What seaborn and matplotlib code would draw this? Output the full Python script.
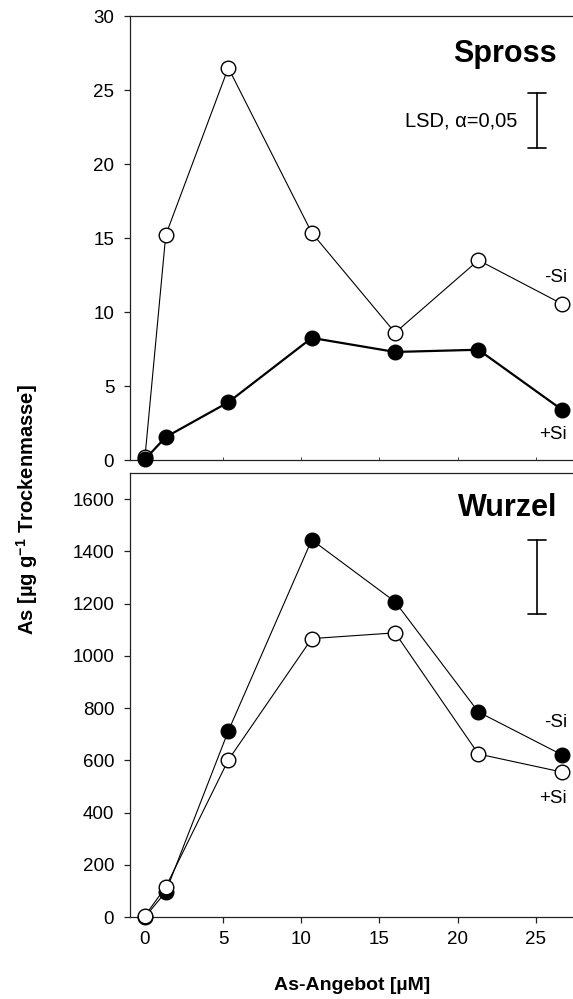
import matplotlib
matplotlib.use("Agg")
import matplotlib.pyplot as plt
import seaborn as sns
import pandas as pd

# As supply (µM)
conc = [0, 1.33, 5.33, 10.67, 16, 21.33, 26.67]

# Shoot (Spross) As content
spross_open = [0.2, 15.2, 26.5, 15.35, 8.6, 13.5, 10.55]
spross_filled = [0.05, 1.55, 3.9, 8.25, 7.3, 7.45, 3.4]

# Root (Wurzel) As content
wurzel_filled = [0, 96, 712, 1444, 1207, 785, 621]
wurzel_open = [5, 115, 601, 1066, 1088, 624, 555]

# LSD (alpha = 0.05) ranges: (lower, upper)
lsd_spross = (21.1, 24.8)
lsd_wurzel = (1161, 1444)

x_ticks = [0, 5, 10, 15, 20, 25]
spross_yticks = [0, 5, 10, 15, 20, 25, 30]
wurzel_yticks = [0, 200, 400, 600, 800, 1000, 1200, 1400, 1600]

sns.set_theme(style="ticks")
plt.rcParams["font.family"] = ["Liberation Sans", "DejaVu Sans"]
plt.rcParams["mathtext.fontset"] = "custom"
plt.rcParams["mathtext.rm"] = "Liberation Sans"
plt.rcParams["mathtext.bf"] = "Liberation Sans:bold"
plt.rcParams["axes.linewidth"] = 0.9
plt.rcParams["axes.edgecolor"] = "#222222"
plt.rcParams["text.color"] = "black"
plt.rcParams["axes.labelcolor"] = "black"
plt.rcParams["xtick.labelcolor"] = "black"
plt.rcParams["ytick.labelcolor"] = "black"

W, H = 573, 999
fig = plt.figure(figsize=(W / 100, H / 100), dpi=100)

left = 129.5 / W
width = 1 - left
ax1 = fig.add_axes([left, 1 - 460 / H, width, 444 / H])
ax2 = fig.add_axes([left, 1 - 917 / H, width, 444 / H])

x_lim = (-0.99, 27.38)
FS = 13.5

def style_line(ax, y, face, lw, z):
    df = pd.DataFrame({"x": conc, "y": y})
    sns.lineplot(data=df, x="x", y="y", ax=ax, color="black", linewidth=lw,
                 marker="o", markersize=10.5, markerfacecolor=face,
                 markeredgecolor="black", markeredgewidth=1.0,
                 zorder=z, clip_on=False)

# Shoot panel
style_line(ax1, spross_open, "white", 0.8, 3)
style_line(ax1, spross_filled, "black", 1.6, 4)

# Root panel
style_line(ax2, wurzel_filled, "black", 0.8, 3)
style_line(ax2, wurzel_open, "white", 0.8, 4)

for ax, yl, yt in [(ax1, (0, 30), spross_yticks), (ax2, (0, 1700), wurzel_yticks)]:
    ax.set_xlim(*x_lim)
    ax.set_ylim(*yl)
    ax.set_yticks(yt)
    ax.set_xticks(x_ticks)
    ax.spines["right"].set_visible(False)
    ax.set_xlabel("")
    ax.set_ylabel("")
    ax.tick_params(axis="y", direction="out", length=4, width=0.9, pad=7,
                   labelsize=FS, colors="#222222", labelcolor="black")
    ax.patch.set_visible(False)

ax1.tick_params(axis="x", direction="in", length=2, width=0.6, labelbottom=False)
ax2.tick_params(axis="x", direction="out", length=4, width=0.9, pad=6,
                labelsize=FS, colors="#222222", labelcolor="black")

# LSD bars
def lsd_bar(ax, rng, x=25.08, cap=0.6):
    lo, hi = rng
    ax.plot([x, x], [lo, hi], color="black", lw=1.2)
    ax.plot([x - cap, x + cap], [lo, lo], color="black", lw=1.2)
    ax.plot([x - cap, x + cap], [hi, hi], color="black", lw=1.2)

lsd_bar(ax1, lsd_spross)
lsd_bar(ax2, lsd_wurzel)

ax1.text(23.8, 22.9, "LSD, α=0,05", ha="right", va="center", fontsize=14.5)

# Panel titles
ax1.text(26.36, 27.4, "Spross", ha="right", va="center", fontsize=22, fontweight="bold")
ax2.text(26.4, 1567, "Wurzel", ha="right", va="center", fontsize=22, fontweight="bold")

# Series labels
ax1.text(27.0, 12.3, "-Si", ha="right", va="center", fontsize=FS)
ax1.text(27.0, 1.7, "+Si", ha="right", va="center", fontsize=FS)
ax2.text(27.0, 743, "-Si", ha="right", va="center", fontsize=FS)
ax2.text(27.0, 452, "+Si", ha="right", va="center", fontsize=FS)

# Axis titles
fig.text(352 / W, 1 - 985 / H, "As-Angebot [µM]", ha="center", va="center",
         fontsize=14, fontweight="bold")
fig.text(27 / W, 1 - 510 / H, r"As [µg g$^{\mathbf{-1}}$ Trockenmasse]",
         ha="center", va="center", rotation=90, fontsize=14.5, fontweight="bold")

fig.savefig("out.png", dpi=100)
